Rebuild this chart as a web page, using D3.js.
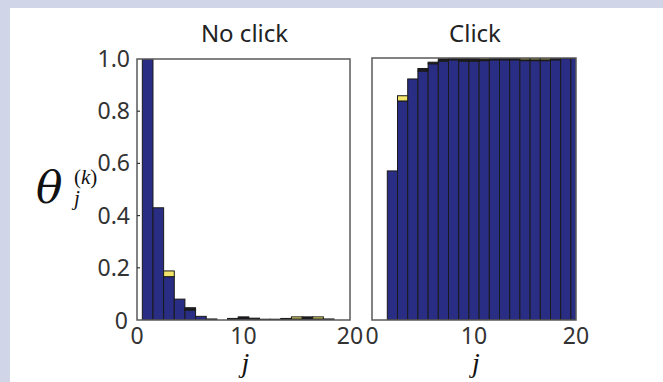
<!DOCTYPE html>
<html>
<head>
<meta charset="utf-8">
<script src="https://cdn.jsdelivr.net/npm/d3@7"></script>
<style>
  html, body { margin: 0; padding: 0; background: #d0d5e8; }
  svg { display: block; }
</style>
</head>
<body>
<div id="chart"></div>
<script>
// j = 1..20
const jValues = d3.range(1, 21);
const panelTitles = ["No click", "Click"];
const yTicks = [0, 0.2, 0.4, 0.6, 0.8, 1.0];
const xTicks = [0, 10, 20];

// no click: stacked parts per j
const noClickBlue   = [1.0, 0.43, 0.166, 0.080, 0.038, 0.014, 0, 0, 0, 0.005, 0, 0, 0, 0, 0, 0.005, 0, 0, 0, 0];
const noClickBlack  = [0, 0, 0, 0, 0.009, 0, 0.004, 0, 0.006, 0.007, 0.007, 0.003, 0.003, 0.006, 0.004, 0.007, 0.004, 0.004, 0, 0];
const noClickYellow = [0, 0, 0.022, 0, 0, 0, 0, 0, 0, 0, 0, 0, 0, 0, 0.008, 0, 0.008, 0, 0, 0];

// click
const clickBlue   = [0, 0.569, 0.836, 0.92, 0.95, 0.978, 0.988, 0.993, 0.988, 0.988, 0.99, 0.993, 0.993, 0.993, 0.99, 0.99, 0.99, 0.993, 0.998, 0.998];
const clickBlack  = [0, 0, 0, 0, 0.01, 0.006, 0.009, 0.005, 0.011, 0.011, 0.004, 0.005, 0.005, 0.005, 0.003, 0.003, 0.003, 0.005, 0.002, 0.002];
const clickYellow = [0, 0, 0.02, 0, 0, 0, 0, 0, 0, 0, 0.006, 0, 0, 0, 0.007, 0.007, 0.007, 0, 0, 0];

const keys = ["blue", "black", "yellow"];
const colors = { blue: "#2a2d84", black: "#1c1c22", yellow: "#f3e46a" };

const toRows = (b, k, y) => jValues.map((j, i) => ({ j, blue: b[i], black: k[i], yellow: y[i] }));

const panels = [
  { title: panelTitles[0], rows: toRows(noClickBlue, noClickBlack, noClickYellow), x0: 137, x1: 350, top: 59, showY: true },
  { title: panelTitles[1], rows: toRows(clickBlue, clickBlack, clickYellow), x0: 372, x1: 576, top: 58, showY: false }
];

const W = 663, H = 382, bottom = 320;

const svg = d3.select("#chart").append("svg")
  .attr("width", W).attr("height", H);

// white sheet
svg.append("rect").attr("x", 10).attr("y", 8).attr("width", W - 10).attr("height", H - 8).attr("fill", "#fff");

const defs = svg.append("defs");
const tickFont = "'Noto Sans', 'Open Sans', sans-serif";

panels.forEach((p, pi) => {
  const x = d3.scaleLinear().domain([0, 20]).range([p.x0, p.x1]);
  const y = d3.scaleLinear().domain([0, 1]).range([bottom, p.top]);
  const series = d3.stack().keys(keys)(p.rows);

  defs.append("clipPath").attr("id", "clip" + pi)
    .append("rect").attr("x", p.x0).attr("y", p.top).attr("width", p.x1 - p.x0).attr("height", bottom - p.top);

  const g = svg.append("g").attr("clip-path", `url(#clip${pi})`);
  g.selectAll("g.s")
    .data(series)
    .join("g")
    .attr("class", "s")
    .attr("fill", d => colors[d.key])
    .selectAll("rect")
    .data(d => d.filter(v => v[1] - v[0] > 0))
    .join("rect")
    .attr("x", d => x(d.data.j - 0.5))
    .attr("width", x(1) - x(0))
    .attr("y", d => y(d[1]))
    .attr("height", d => y(d[0]) - y(d[1]))
    .attr("stroke", "#1a1a1a")
    .attr("stroke-width", 1);

  // frame
  svg.append("rect")
    .attr("x", p.x0).attr("y", p.top)
    .attr("width", p.x1 - p.x0).attr("height", bottom - p.top)
    .attr("fill", "none").attr("stroke", "#5a5a5a").attr("stroke-width", 1.5);

  // x tick labels
  svg.append("g").selectAll("text")
    .data(xTicks)
    .join("text")
    .attr("x", d => x(d))
    .attr("y", 344)
    .attr("text-anchor", "middle")
    .style("font-family", tickFont)
    .style("font-size", "23px")
    .attr("fill", "#333")
    .text(d => d);

  if (p.showY) {
    svg.append("g").selectAll("line")
      .data(yTicks.slice(1, -1))
      .join("line")
      .attr("x1", p.x0).attr("x2", p.x0 + 3)
      .attr("y1", d => y(d)).attr("y2", d => y(d))
      .attr("stroke", "#333").attr("stroke-width", 1.2);

    svg.append("g").selectAll("text")
      .data(yTicks)
      .join("text")
      .attr("x", d => d === 0 ? 128 : 130)
      .attr("y", d => y(d) + (d === 0 ? 9 : 8))
      .attr("text-anchor", "end")
      .style("font-family", tickFont)
      .style("font-size", "23px")
      .attr("fill", "#333")
      .text(d => d === 0 ? "0" : d.toFixed(1));
  }

  // panel title
  svg.append("text")
    .attr("x", (p.x0 + p.x1) / 2 + 1)
    .attr("y", 42)
    .attr("text-anchor", "middle")
    .style("font-family", tickFont)
    .style("font-size", "24px")
    .attr("fill", "#222")
    .text(p.title);

  // x label
  svg.append("text")
    .attr("x", (p.x0 + p.x1) / 2 + 2)
    .attr("y", 372)
    .attr("text-anchor", "middle")
    .style("font-family", "'Liberation Serif', 'DejaVu Serif', serif")
    .style("font-style", "italic")
    .style("font-size", "28px")
    .attr("fill", "#111")
    .text("j");
});

// y label: theta_j^(k)
const yl = svg.append("g").attr("fill", "#111");
yl.append("text").attr("x", 36).attr("y", 203)
  .style("font-family", "'DejaVu Serif', serif")
  .style("font-style", "italic").style("font-size", "44px").text("θ");
const sup = yl.append("text").attr("x", 74).attr("y", 184)
  .style("font-family", "'Liberation Serif', serif").style("font-size", "21px");
sup.append("tspan").text("(");
sup.append("tspan").style("font-style", "italic").text("k");
sup.append("tspan").text(")");
yl.append("text").attr("x", 74).attr("y", 205)
  .style("font-family", "'Liberation Serif', serif")
  .style("font-style", "italic").style("font-size", "21px").text("j");
</script>
</body>
</html>
